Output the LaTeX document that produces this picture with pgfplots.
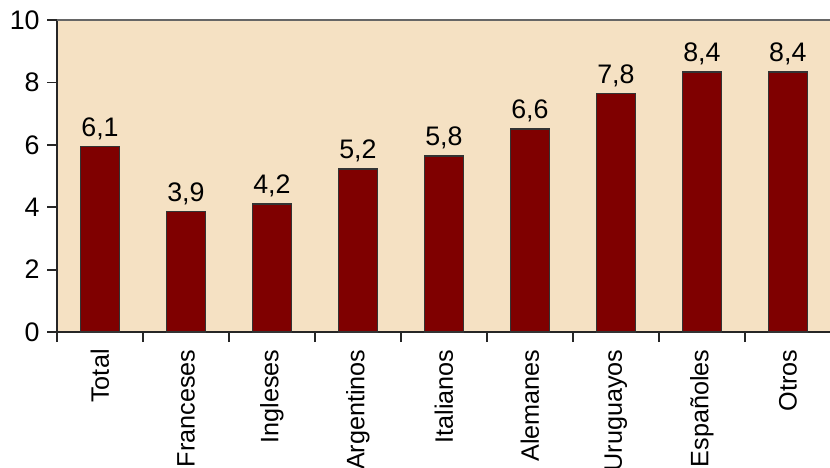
\documentclass[border=0pt]{standalone}
\usepackage{fontspec}
\setmainfont{Liberation Sans}
\usepackage{pgfplots}
\usepackage{pgfplotstable}
\pgfplotsset{compat=1.18}
\definecolor{bg}{HTML}{F5E1C3}
\definecolor{bar}{HTML}{7F0000}
\pgfplotstableread{
x y lab
0 5.94 6,1
1 3.86 3,9
2 4.10 4,2
3 5.22 5,2
4 5.64 5,8
5 6.50 6,6
6 7.65 7,8
7 8.33 8,4
8 8.33 8,4
}\datatab
\begin{document}
\fontsize{12pt}{14pt}\selectfont
\begin{tikzpicture}
\path[use as bounding box] (0,0) rectangle (415pt,-233.5pt);
\begin{axis}[
  at={(28.5pt,-10pt)}, anchor=north west,
  scale only axis, width=386.5pt, height=156pt,
  xmin=-0.5, xmax=8.49, ymin=0, ymax=10,
  axis x line=bottom, axis y line=left,
  axis line style={-, line width=0.9pt, draw=black!85},
  axis background/.style={fill=bg},
  ytick={0,2,4,6,8,10},
  xtick={0,...,8},
  xticklabels={Total,Franceses,Ingleses,Argentinos,Italianos,Alemanes,Uruguayos,Españoles,Otros},
  minor xtick={-0.5,0.5,...,7.5},
  tick align=outside,
  major tick length=5pt, minor tick length=5pt,
  major x tick style={draw=none},
  minor x tick style={draw=black!85, line width=0.9pt},
  y tick style={draw=black!85, line width=0.9pt},
  x tick label style={rotate=90, anchor=east, font=\fontsize{12.6pt}{14pt}\selectfont, xshift=0.5pt},
  y tick label style={font=\fontsize{13.4pt}{15pt}\selectfont, inner sep=3.5pt},
  /pgf/number format/assume math mode=true,
  clip=false,
]
\addplot[ybar, bar width=19.5pt, fill=bar, draw=black!80, line width=0.8pt,
  point meta=explicit symbolic,
  nodes near coords,
  every node near coord/.append style={font=\fontsize{13.4pt}{15pt}\selectfont, text=black, inner sep=2pt, yshift=1pt}]
  table[x=x, y=y, meta=lab] {\datatab};
\draw[black!60, line width=0.6pt] (rel axis cs:0,1) -- (rel axis cs:1.1,1);
\end{axis}
\end{tikzpicture}
\end{document}
